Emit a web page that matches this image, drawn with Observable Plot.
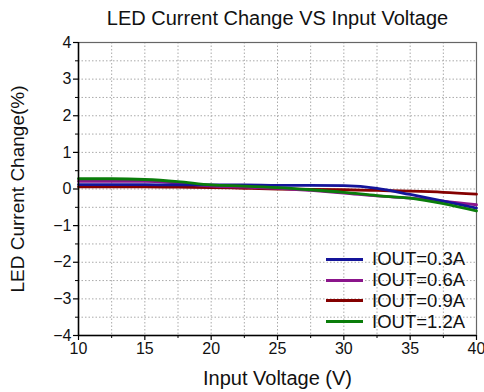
<!DOCTYPE html>
<html>
<head>
<meta charset="utf-8">
<script src="https://cdn.jsdelivr.net/npm/d3@7"></script>
<script src="https://cdn.jsdelivr.net/npm/@observablehq/plot@0.6"></script>
<style>
  html, body { margin: 0; padding: 0; background: #fff; }
  #wrap { position: relative; width: 484px; height: 392px; font-family: "Liberation Sans", Arial, sans-serif; }
  #legend { position: absolute; left: 326px; top: 249px; }
  #legend .row { display: flex; align-items: center; height: 20.8px; font-size: 18.5px; color: #111; }
  #legend .sw { width: 37px; height: 3px; margin-right: 9px; }
</style>
</head>
<body>
<div id="wrap"></div>
<script>
const title = "LED Current Change VS Input Voltage";
const xLabel = "Input Voltage (V)";
const yLabel = "LED Current Change(%)";

const voltage = [10, 12.5, 15, 17.5, 20, 22.5, 25, 27.5, 30, 32.5, 35, 37.5, 40];
const iout03 = [0.12, 0.12, 0.12, 0.11, 0.11, 0.11, 0.10, 0.10, 0.09, 0.02, -0.15, -0.33, -0.52];
const iout06 = [0.21, 0.21, 0.21, 0.16, 0.08, 0.05, 0.02, -0.04, -0.11, -0.19, -0.25, -0.33, -0.43];
const iout09 = [0.06, 0.06, 0.06, 0.05, 0.04, 0.02, 0.00, -0.01, -0.02, -0.04, -0.06, -0.09, -0.14];
const iout12 = [0.28, 0.28, 0.26, 0.20, 0.11, 0.08, 0.04, -0.02, -0.09, -0.18, -0.25, -0.40, -0.60];

const seriesNames = ["IOUT=0.3A", "IOUT=0.6A", "IOUT=0.9A", "IOUT=1.2A"];
const seriesValues = [iout03, iout06, iout09, iout12];
const seriesColors = ["#14149a", "#8b158b", "#840000", "#0a7d0a"];
const drawOrder = [2, 1, 0, 3];

const xTicks = [10, 15, 20, 25, 30, 35, 40];
const xMinor = [12.5, 17.5, 22.5, 27.5, 32.5, 37.5];
const yTicks = [-4, -3, -2, -1, 0, 1, 2, 3, 4];
const yMinor = [-3.5, -2.5, -1.5, -0.5, 0.5, 1.5, 2.5, 3.5];
const xGrid = [12.5, 15, 17.5, 20, 22.5, 25, 27.5, 30, 32.5, 35, 37.5];
const yGrid = [-3.5, -3, -2.5, -2, -1.5, -1, -0.5, 0, 0.5, 1, 1.5, 2, 2.5, 3, 3.5];

const rows = drawOrder.flatMap(i => voltage.map((v, j) => ({series: seriesNames[i], x: v, y: seriesValues[i][j]})));

const gridStyle = {stroke: "#aaa", strokeOpacity: 1, strokeDasharray: "1.5,2", strokeWidth: 1};

const chart = Plot.plot({
  width: 484,
  height: 392,
  marginLeft: 78,
  marginRight: 8,
  marginTop: 42,
  marginBottom: 57,
  style: {fontFamily: "'Liberation Sans', Arial, sans-serif", background: "#fff", color: "#111"},
  x: {domain: [10, 40]},
  y: {domain: [-4, 4]},
  color: {domain: seriesNames, range: seriesColors},
  marks: [
    Plot.gridX(xGrid, gridStyle),
    Plot.gridY(yGrid, gridStyle),
    Plot.frame({stroke: "#666", strokeWidth: 1.2}),
    Plot.line(rows, {x: "x", y: "y", z: "series", stroke: "series", strokeWidth: 2.8, curve: "monotone-x"}),
    Plot.ruleX([10], {stroke: "#000", strokeWidth: 1.5}),
    Plot.ruleY([-4], {stroke: "#000", strokeWidth: 1.5}),
    Plot.axisX(xTicks, {tickSize: 5, tickPadding: 2, fontSize: 16, label: null, stroke: "#000", strokeWidth: 1.2}),
    Plot.axisX(xMinor, {tickSize: 3, text: null, label: null, stroke: "#000", strokeWidth: 1}),
    Plot.axisY(yTicks, {tickSize: 5, tickPadding: 2, fontSize: 16, label: null, stroke: "#000", strokeWidth: 1.2}),
    Plot.axisY(yMinor, {tickSize: 3, text: null, label: null, stroke: "#000", strokeWidth: 1}),
    Plot.text([title], {frameAnchor: "top", dy: -23.5, fontSize: 20, text: d => d, lineAnchor: "middle", textAnchor: "middle"}),
    Plot.text([xLabel], {frameAnchor: "bottom", dy: 43, fontSize: 20, text: d => d, lineAnchor: "middle", textAnchor: "middle"}),
    Plot.text([yLabel], {frameAnchor: "left", dx: -61, rotate: -90, fontSize: 19, text: d => d, lineAnchor: "middle", textAnchor: "middle"})
  ]
});

const wrap = document.getElementById("wrap");
wrap.appendChild(chart);

const legend = document.createElement("div");
legend.id = "legend";
seriesNames.forEach((name, i) => {
  const row = document.createElement("div");
  row.className = "row";
  const sw = document.createElement("span");
  sw.className = "sw";
  sw.style.background = seriesColors[i];
  const label = document.createElement("span");
  label.textContent = name;
  row.appendChild(sw);
  row.appendChild(label);
  legend.appendChild(row);
});
wrap.appendChild(legend);
</script>
</body>
</html>
